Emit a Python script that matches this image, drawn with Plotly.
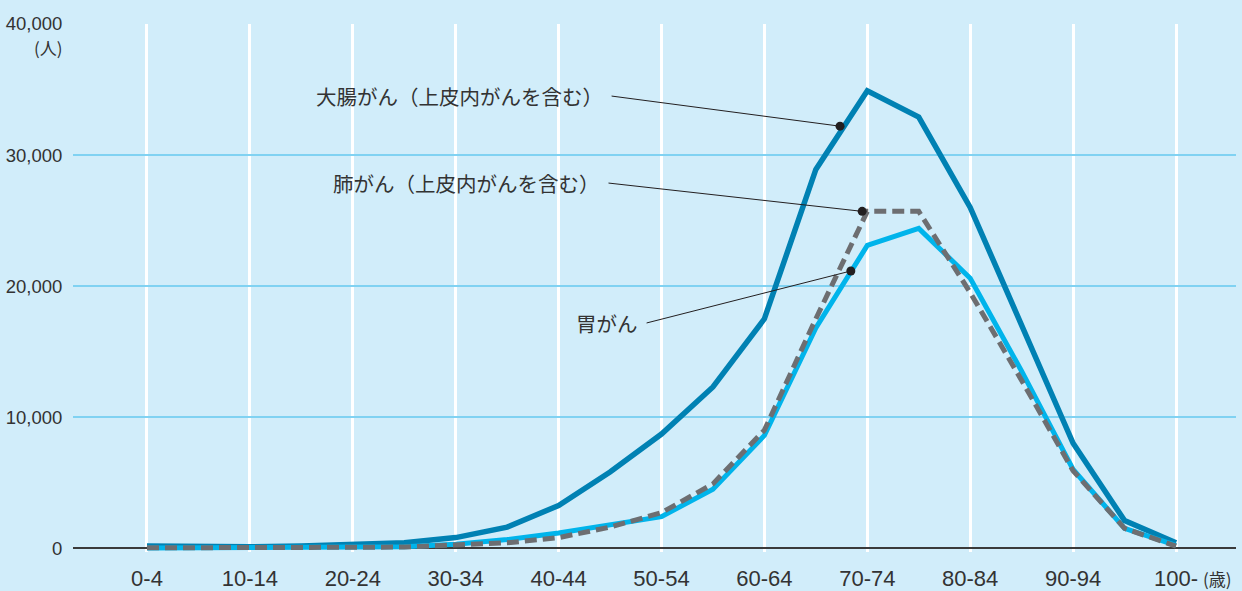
import plotly.graph_objects as go

# ---- data ----
ages = ['0-4', '5-9', '10-14', '15-19', '20-24', '25-29', '30-34', '35-39', '40-44',
        '45-49', '50-54', '55-59', '60-64', '65-69', '70-74', '75-79', '80-84',
        '85-89', '90-94', '95-99', '100-']
colorectal = [150, 100, 100, 150, 250, 400, 800, 1600, 3250, 5800, 8700, 12300, 17500,
              28900, 34900, 32900, 26000, 17000, 8000, 2100, 400]
stomach = [10, 10, 20, 40, 80, 100, 300, 650, 1150, 1750, 2400, 4500, 8600,
           16800, 23100, 24400, 20600, 13500, 6000, 1500, 200]
lung = [20, 10, 20, 40, 60, 80, 200, 400, 800, 1600, 2700, 4900, 9000,
        17500, 25700, 25700, 19500, 12800, 5900, 1500, 150]
tick_labels = ages[::2]
y_ticks = [0, 10000, 20000, 30000, 40000]

series_names = ['大腸がん（上皮内がんを含む）', '胃がん', '肺がん（上皮内がんを含む）']

# label placement: (text, text_x, text_y, dot_x, dot_y)
labels = [
    ('大腸がん（上皮内がんを含む）', 8.90, 34500, 13.47, 32200),
    ('肺がん（上皮内がんを含む）', 8.84, 27860, 13.90, 25700),
    ('胃がん', 9.58, 17180, 13.68, 21150),
]

BG = '#D1EDFA'
DARK = '#0081B3'
LIGHT = '#00B4EB'
GRAY = '#6D6E71'
TXT = '#333333'
JP = 'Noto Sans CJK JP'

fig = go.Figure()
fig.add_trace(go.Scatter(x=ages, y=colorectal, mode='lines', name=series_names[0],
                         line=dict(color=DARK, width=5.5)))
fig.add_trace(go.Scatter(x=ages, y=stomach, mode='lines', name=series_names[1],
                         line=dict(color=LIGHT, width=5)))
fig.add_trace(go.Scatter(x=ages, y=lung, mode='lines', name=series_names[2],
                         line=dict(color=GRAY, width=5, dash='12px,6px')))

# leader lines, dots, labels
for text, tx, ty, dx, dy in labels:
    fig.add_shape(type='line', xref='x', yref='y', x0=tx + 0.13, y0=ty, x1=dx, y1=dy,
                  line=dict(color='#231F20', width=1))
    fig.add_annotation(x=tx, y=ty, xref='x', yref='y', text=text, showarrow=False,
                       xanchor='right', yanchor='middle',
                       font=dict(family=JP, size=20.5, color=TXT))
fig.add_trace(go.Scatter(x=[l[3] for l in labels], y=[l[4] for l in labels],
                         mode='markers', marker=dict(color='#231F20', size=9),
                         xaxis='x2', showlegend=False, hoverinfo='skip'))

fig.add_annotation(xref='paper', yref='y', x=0, y=40000, xshift=-8, yshift=-23,
                   xanchor='right', yanchor='middle', text='(人)', showarrow=False,
                   font=dict(family=JP, size=17, color=TXT))
fig.add_annotation(xref='x', yref='paper', x=20, y=0, xshift=25, yshift=-12,
                   xanchor='left', yanchor='top', text='(歳)', showarrow=False,
                   font=dict(family=JP, size=17, color=TXT))

XR = [-1.438, 21.166]
fig.update_layout(
    width=1242, height=591,
    margin=dict(l=73, r=6, t=24, b=39, autoexpand=False),
    paper_bgcolor=BG, plot_bgcolor=BG,
    showlegend=False,
    xaxis=dict(type='category', categoryorder='array', categoryarray=ages,
               range=XR, tickmode='array', tickvals=tick_labels, ticktext=tick_labels,
               showgrid=True, gridcolor='white', gridwidth=3,
               ticks='outside', ticklen=7, tickcolor='rgba(0,0,0,0)',
               tickfont=dict(family='Liberation Sans, Arial', size=22, color=TXT),
               showline=False, zeroline=False, fixedrange=True, automargin=False),
    xaxis2=dict(overlaying='x', range=XR, visible=False, showgrid=False),
    yaxis=dict(range=[-300, 40000], tickmode='array', tickvals=y_ticks,
               tickformat=',d', showgrid=True, gridcolor='#80D2F2', gridwidth=1.5,
               zeroline=True, zerolinecolor='#3A3A3A', zerolinewidth=2,
               ticks='outside', ticklen=6, tickcolor='rgba(0,0,0,0)',
               tickfont=dict(family='Liberation Sans, Arial', size=18.5, color=TXT),
               showline=False, fixedrange=True, automargin=False),
)

fig.write_html('out.html')
